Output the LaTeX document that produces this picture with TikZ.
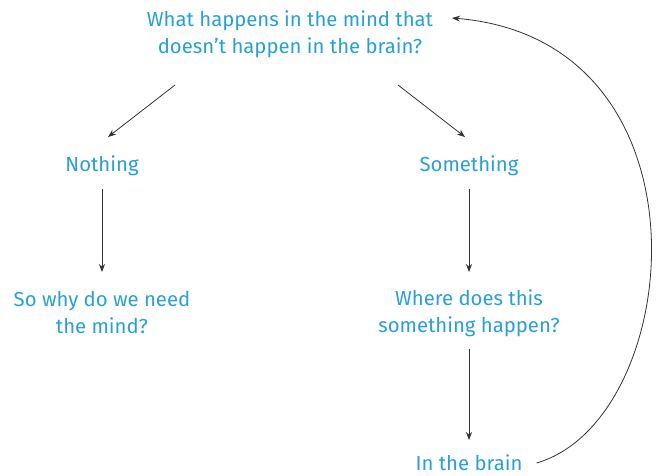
\documentclass[tikz,border=0pt]{standalone}
\usepackage{fontspec}
\setmainfont{Fira Sans}
\usetikzlibrary{arrows.meta}
\definecolor{qblue}{RGB}{40,160,215}
\tikzset{
	txt/.style={text=qblue,align=center,inner sep=0pt,font=\fontsize{20.3}{27}\selectfont},
	arr/.style={-{Stealth[length=8pt,width=6pt]},thick,black!80}
}
\begin{document}
\begin{tikzpicture}[x=1pt,y=-1pt]
				\useasboundingbox (0,0) rectangle (659,475);
				\node[txt] (q) at (290,34) {What happens in the mind that\\doesn't happen in the brain?};
				\node[txt] (no) at (102,166) {Nothing};
				\node[txt] (so) at (102,313) {So why do we need\\the mind?};
				\node[txt] (yes) at (469,166) {Something};
				\node[txt] (where) at (469,313) {Where does this\\something happen?};
				\node[txt] (brain) at (469,463) {In the brain};
				\coordinate (a1) at (175,85);
				\coordinate (a2) at (398,85);
				\coordinate (top) at (452,18);
				\draw[arr] (a1)--(108,137) coordinate (b1);
				\draw[arr] (a2)--(465,137) coordinate (b2);
				\draw[arr] (no.south)++(0,13)--(102,272);
				\draw[arr] (yes.south)++(0,13)--(469,272);
				\draw[arr] (where.south)++(0,12)--(469,440);
				\draw[arr] (brain.east)++(14,0) .. controls (685,420) and (720,40) .. (top);
			\end{tikzpicture}
\end{document}
